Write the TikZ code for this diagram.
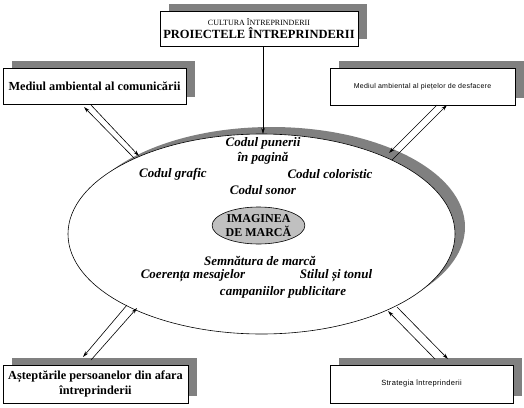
\documentclass[tikz,border=0pt]{standalone}
\usepackage{fontspec}
\setmainfont{Liberation Serif}
\newfontfamily\tinysans[LetterSpace=4]{Liberation Sans}
\usetikzlibrary{shapes.geometric,shadows,arrows.meta}
\definecolor{shade}{HTML}{808080}
\definecolor{innerfill}{HTML}{C0C0C0}
\tikzset{
  box/.style={rectangle, draw, line width=0.8pt, fill=white, inner sep=0pt, align=center,
    general shadow={fill=shade, draw=none, shadow xshift=9pt, shadow yshift=7pt}},
  boxtext/.style={font=\bfseries\fontsize{12.3}{15}\selectfont},
  smalltext/.style={font=\tinysans\fontsize{7}{8}\selectfont},
  lab/.style={font=\bfseries\itshape\fontsize{13}{15}\selectfont, inner sep=0pt, align=center},
  arr/.style={line width=0.6pt, -{Stealth[length=6pt,width=3.5pt]}}
}
\begin{document}
\begin{tikzpicture}[x=1pt,y=-1pt]
\useasboundingbox (0,0) rectangle (524,407);

% big ellipse
\node[ellipse, draw, line width=0.6pt, fill=white, minimum width=387pt, minimum height=200pt, inner sep=0pt,
  general shadow={fill=shade, draw=none, shadow xshift=10pt, shadow yshift=7pt}] (E) at (261.5,234) {};

% boxes
\node[box, minimum width=198pt, minimum height=35pt] (top) at (259,28.5)
  {{\fontsize{8}{9}\selectfont CULTURA ÎNTREPRINDERII}\\[1pt]{\bfseries\fontsize{12.5}{13}\selectfont PROIECTELE ÎNTREPRINDERII}};
\node[box, boxtext, minimum width=183pt, minimum height=36pt] (tl) at (94.5,86) {Mediul ambiental al comunicării};
\node[box, smalltext, minimum width=185pt, minimum height=37pt] (tr) at (422.5,86.5) {Mediul ambiental al piețelor de desfacere};
\node[box, boxtext, minimum width=185pt, minimum height=38pt] (bl) at (95.5,384) {Așteptările persoanelor din afara\\întreprinderii};
\node[box, smalltext, font=\tinysans\fontsize{7.5}{8}\selectfont, minimum width=183pt, minimum height=38pt] (br) at (421.5,384) {Strategia întreprinderii};

% inner ellipse
\node[ellipse, draw, line width=0.6pt, fill=innerfill, minimum width=80pt, minimum height=37pt, inner sep=0pt,
  align=center, font=\bfseries\fontsize{12}{14.5}\selectfont] (I) at (258.5,225.5) {IMAGINEA\\DE MARCĂ};

% labels
\node[lab] (l1) at (263,151) {Codul punerii\\în pagină};
\node[lab] (l2) at (173,174) {Codul grafic};
\node[lab] (l3) at (330,174) {Codul coloristic};
\node[lab] (l4) at (263,190) {Codul sonor};
\node[lab] (l5) at (260,261) {Semnătura de marcă};
\node[lab] (l6) at (193,276) {Coerența mesajelor};
\node[lab] (l7) at (336,276) {Stilul și tonul};
\node[lab] (l8) at (283,292) {campaniilor publicitare};

% connector endpoints
\coordinate (t1) at (263,46);   \coordinate (t2) at (263,134);
\coordinate (a1b) at (84,107);  \coordinate (a1e) at (134,158);
\coordinate (a2b) at (91,105);  \coordinate (a2e) at (139,156);
\coordinate (b1b) at (437,105); \coordinate (b1e) at (389,153);
\coordinate (b2b) at (447,105); \coordinate (b2e) at (392,160);
\coordinate (c1b) at (83,357);  \coordinate (c1e) at (127,305);
\coordinate (c2b) at (91,360);  \coordinate (c2e) at (137,308);
\coordinate (d1b) at (435,359); \coordinate (d1e) at (388,311);
\coordinate (d2b) at (448,359); \coordinate (d2e) at (397,307);

% connectors
\draw[arr] (t1) -- (t2);
\draw[arr] (a1e) -- (a1b);
\draw[arr] (a2b) -- (a2e);
\draw[arr] (b1b) -- (b1e);
\draw[arr] (b2e) -- (b2b);
\draw[arr] (c1e) -- (c1b);
\draw[arr] (c2b) -- (c2e);
\draw[arr] (d1b) -- (d1e);
\draw[arr] (d2e) -- (d2b);
\end{tikzpicture}
\end{document}
